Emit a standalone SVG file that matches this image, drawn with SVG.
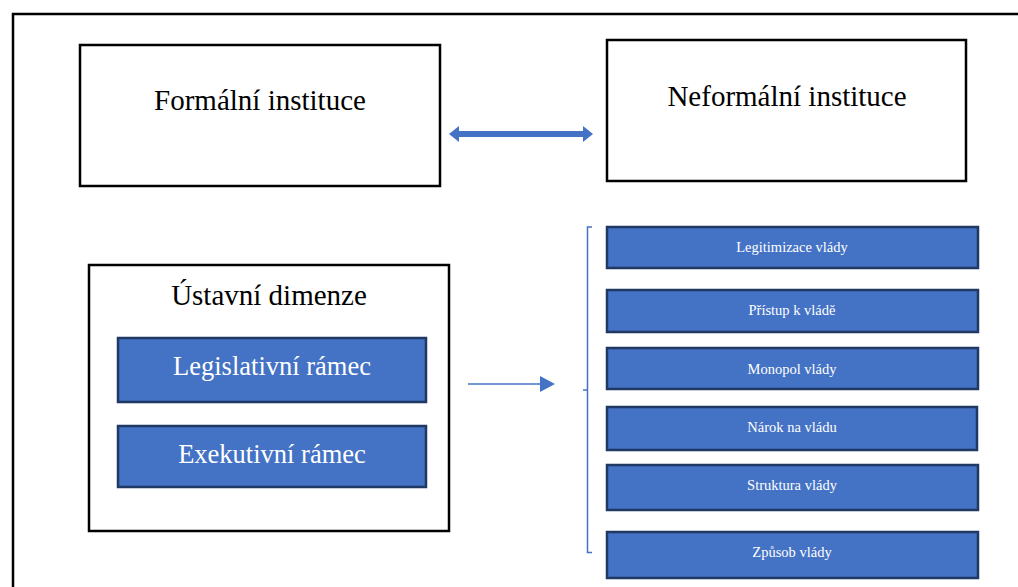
<svg xmlns="http://www.w3.org/2000/svg" width="1018" height="587" viewBox="0 0 1018 587">
<style>
.frame{fill:#fff;stroke:#000;stroke-width:2.5}
.box{fill:#fff;stroke:#000;stroke-width:2.5}
.blue{fill:#4472C4;stroke:#1F3864;stroke-width:2.5}
.t{font-family:"Liberation Serif","Times New Roman",serif;text-anchor:middle}
.big{font-size:29px;fill:#000}
.mid{font-size:26.5px;fill:#fff}
.sm{font-size:14.5px;fill:#fff}
.con{stroke:#4472C4;fill:none}
</style>
<rect x="0" y="0" width="1018" height="587" fill="#fff"/>
<rect class="frame" x="13" y="14" width="1020" height="600"/>
<g id="formalni"><rect class="box" x="80" y="45" width="360" height="141"/><text class="t big" x="260" y="110">Formální instituce</text></g>
<g id="neformalni"><rect class="box" x="607" y="40" width="359" height="141"/><text class="t big" x="787" y="106">Neformální instituce</text></g>
<g id="ustavni"><rect class="box" x="89" y="265" width="360" height="266"/><text class="t big" x="269" y="305">Ústavní dimenze</text></g>
<g id="legislativni"><rect class="blue" x="118" y="338" width="308" height="64"/><text class="t mid" x="272" y="375">Legislativní rámec</text></g>
<g id="exekutivni"><rect class="blue" x="118" y="426" width="308" height="61"/><text class="t mid" x="272" y="463">Exekutivní rámec</text></g>
<g id="legitimizace"><rect class="blue" x="607" y="227" width="371" height="41"/><text class="t sm" x="792" y="252">Legitimizace vlády</text></g>
<g id="pristup"><rect class="blue" x="607" y="290" width="371" height="42"/><text class="t sm" x="792" y="315">Přístup k vládě</text></g>
<g id="monopol"><rect class="blue" x="607" y="348" width="371" height="41"/><text class="t sm" x="792" y="374">Monopol vlády</text></g>
<g id="narok"><rect class="blue" x="607" y="407" width="370" height="43"/><text class="t sm" x="792" y="432">Nárok na vládu</text></g>
<g id="struktura"><rect class="blue" x="607" y="465" width="371" height="45"/><text class="t sm" x="792" y="490">Struktura vlády</text></g>
<g id="zpusob"><rect class="blue" x="607" y="532" width="371" height="46"/><text class="t sm" x="792" y="557">Způsob vlády</text></g>
<g id="connectors">
<polygon points="449,134 459,126 459,131 583,131 583,126 593,134 583,142 583,137 459,137 459,142" fill="#4472C4"/>
<line class="con" x1="468" y1="384" x2="542" y2="384" stroke-width="1.5"/>
<polygon points="540,376 555,384 540,392" fill="#4472C4"/>
<path class="con" d="M592,227 L587.5,227 L587.5,552.5 L592,552.5 M583,390 L587.5,390" stroke-width="1.5"/>
</g>
</svg>
